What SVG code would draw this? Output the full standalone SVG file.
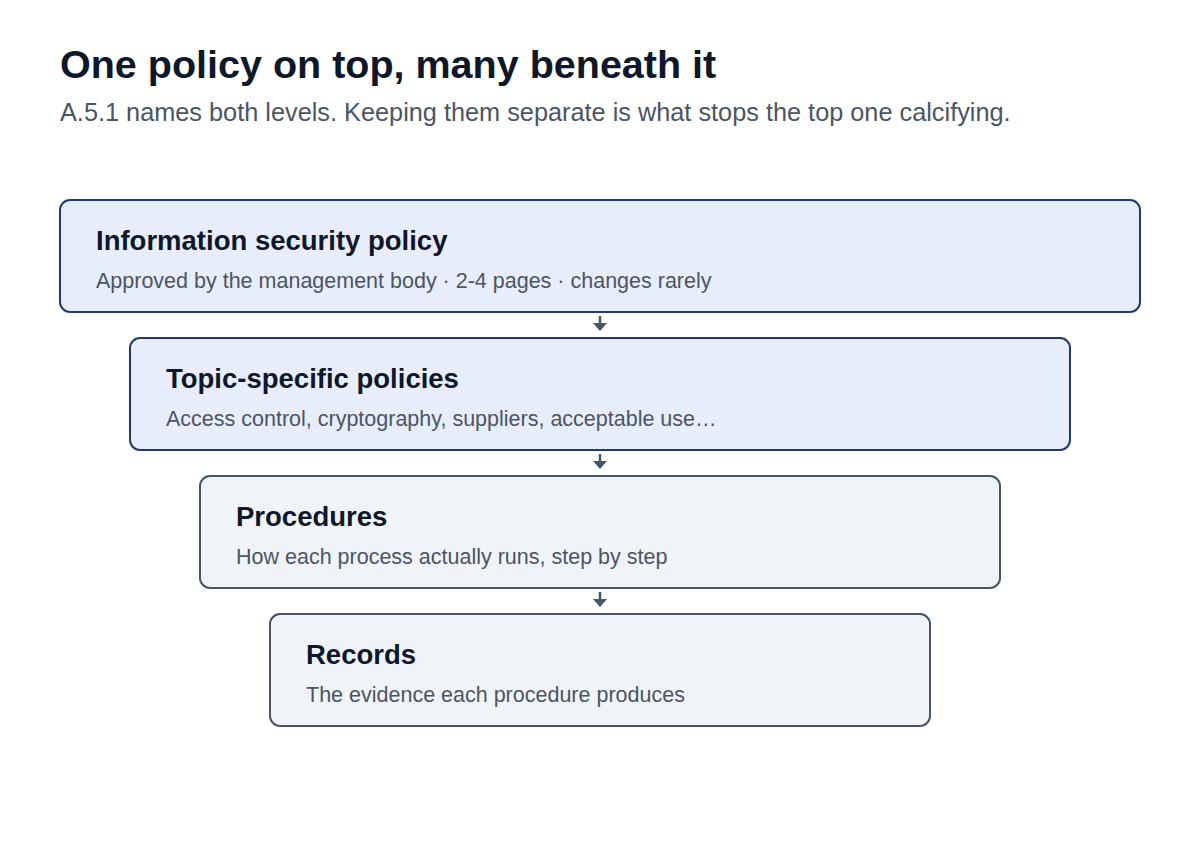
<svg xmlns="http://www.w3.org/2000/svg" width="1200" height="852" viewBox="0 0 1200 852">
<style>
.t{font-family:"Liberation Sans",Arial,sans-serif;font-weight:bold;font-size:39.5px;fill:#0f172a}
.st{font-family:"Liberation Sans",Arial,sans-serif;font-size:25.3px;fill:#4b5563}
.nt{font-family:"Liberation Sans",Arial,sans-serif;font-weight:bold;font-size:27.5px;fill:#0f172a}
.ns{font-family:"Liberation Sans",Arial,sans-serif;font-size:21.5px;fill:#4b5563}
.b1{fill:#e8edfb;stroke:#1e3a6e;stroke-width:2}
.b2{fill:#f0f4f9;stroke:#475569;stroke-width:2}
.c{stroke:#475569;stroke-width:2.5;fill:none}
.h{fill:#475569}
</style>
<rect width="1200" height="852" fill="#ffffff"/>
<text class="t" x="60" y="78">One policy on top, many beneath it</text>
<text class="st" x="60" y="121">A.5.1 names both levels. Keeping them separate is what stops the top one calcifying.</text>
<g id="connectors">
<line class="c" x1="600" y1="316" x2="600" y2="324"/>
<polygon class="h" points="593,323 607,323 600,331"/>
<line class="c" x1="600" y1="454" x2="600" y2="462"/>
<polygon class="h" points="593,461 607,461 600,469"/>
<line class="c" x1="600" y1="592" x2="600" y2="600"/>
<polygon class="h" points="593,599 607,599 600,607"/>
</g>
<g id="node-isp">
<rect class="b1" x="60" y="200" width="1080" height="112" rx="10"/>
<text class="nt" x="96" y="250">Information security policy</text>
<text class="ns" x="96" y="288">Approved by the management body · 2-4 pages · changes rarely</text>
</g>
<g id="node-topic">
<rect class="b1" x="130" y="338" width="940" height="112" rx="10"/>
<text class="nt" x="166" y="388">Topic-specific policies</text>
<text class="ns" x="166" y="426">Access control, cryptography, suppliers, acceptable use…</text>
</g>
<g id="node-proc">
<rect class="b2" x="200" y="476" width="800" height="112" rx="10"/>
<text class="nt" x="236" y="526">Procedures</text>
<text class="ns" x="236" y="564">How each process actually runs, step by step</text>
</g>
<g id="node-rec">
<rect class="b2" x="270" y="614" width="660" height="112" rx="10"/>
<text class="nt" x="306" y="664">Records</text>
<text class="ns" x="306" y="702">The evidence each procedure produces</text>
</g>
</svg>
